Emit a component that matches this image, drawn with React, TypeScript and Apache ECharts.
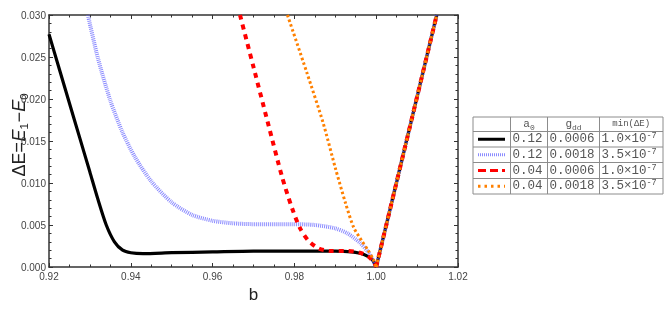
import React, { useEffect, useRef } from "react";
import * as echarts from "echarts";

const bBlack = [0.92, 0.9225, 0.925, 0.9275, 0.93, 0.932, 0.934, 0.936, 0.938, 0.94, 0.943, 0.95, 0.96, 0.97, 0.98, 0.99, 0.994, 0.997, 0.999, 1.0];
const eBlack = [0.0277, 0.0236, 0.0195, 0.0154, 0.0113, 0.008, 0.005, 0.003, 0.002, 0.0017, 0.0016, 0.0017, 0.0018, 0.0019, 0.0019, 0.0019, 0.0018, 0.0015, 0.0009, 0.0];

const bBlue = [0.9295, 0.932, 0.935, 0.938, 0.941, 0.945, 0.95, 0.955, 0.96, 0.965, 0.97, 0.98, 0.985, 0.99, 0.993, 0.996, 0.998, 1.0];
const eBlue = [0.03, 0.0248, 0.0198, 0.016, 0.0131, 0.0102, 0.0077, 0.0062, 0.0055, 0.0052, 0.0051, 0.0051, 0.005, 0.0046, 0.004, 0.0029, 0.0018, 0.0];

const bRed = [0.9667, 0.97, 0.9735, 0.977, 0.9795, 0.9815, 0.9835, 0.986, 0.989, 0.993, 0.996, 0.998, 0.9995, 1.0];
const eRed = [0.03, 0.0238, 0.0172, 0.0107, 0.0069, 0.0045, 0.0031, 0.0022, 0.0019, 0.0019, 0.0017, 0.0013, 0.0005, 0.0];

const bOrange = [0.9783, 0.983, 0.987, 0.99, 0.9925, 0.9945, 0.9965, 0.998, 0.9992, 1.0];
const eOrange = [0.03, 0.0232, 0.0172, 0.0118, 0.0076, 0.0047, 0.0031, 0.002, 0.001, 0.0];

const bRight = [1.0, 1.0148];
const eRight = [0.0, 0.03];

const legA0 = ["0.12", "0.12", "0.04", "0.04"];
const legGdd = ["0.0006", "0.0018", "0.0006", "0.0018"];
const legMinMant = ["1.0", "3.5", "1.0", "3.5"];
const legMinExp = ["-7", "-7", "-7", "-7"];

const styles = [
  { color: "#000000", width: 3.2, dash: undefined as any, opacity: 1 },
  { color: "#6464ff", width: 4, dash: [1, 1], opacity: 0.75 },
  { color: "#ff0000", width: 4, dash: [5, 5], opacity: 1 },
  { color: "#ff8000", width: 3, dash: [2.5, 2.5], opacity: 1 },
];

const zip = (xs: number[], ys: number[]) => xs.map((x, i) => [x, ys[i]]);

export default function App() {
  const ref = useRef<HTMLDivElement>(null);
  useEffect(() => {
    if (!ref.current) return;
    const chart = echarts.init(ref.current, null, { renderer: "svg" });
    const font = "Liberation Sans, Arial, sans-serif";
    const mono = "Liberation Mono, Courier New, monospace";
    const axisCommon = {
      type: "value",
      axisLine: { show: true, onZero: false, lineStyle: { color: "#333", width: 1.5 } },
      axisTick: { show: true, inside: true, length: 4, lineStyle: { color: "#333", width: 1 } },
      minorTick: { show: true, length: 2.5, lineStyle: { color: "#333", width: 1 } },
      splitLine: { show: false },
    };
    const xBase = { ...axisCommon, min: 0.92, max: 1.02, interval: 0.02, minorTick: { ...axisCommon.minorTick, splitNumber: 4 } };
    const yBase = { ...axisCommon, min: 0, max: 0.03, interval: 0.005, minorTick: { ...axisCommon.minorTick, splitNumber: 5 } };

    const datasets = [zip(bBlack, eBlack), zip(bBlue, eBlue), zip(bRed, eRed), zip(bOrange, eOrange)];
    const series: any[] = [];
    datasets.forEach((d, i) => {
      const s = styles[i];
      series.push({
        type: "line", data: d, showSymbol: false, symbol: "none", smooth: 0.25, clip: true,
        z: 2 + i,
        lineStyle: { color: s.color, width: s.width, type: s.dash || "solid", opacity: s.opacity, cap: "butt" },
      });
    });
    styles.forEach((s, i) => {
      series.push({
        type: "line", data: zip(bRight, eRight), showSymbol: false, symbol: "none", clip: true, z: 2 + i,
        lineStyle: { color: s.color, width: s.width, type: s.dash || "solid", opacity: s.opacity, cap: "butt" },
      });
    });

    // Legend table
    const tx = 473, cols = [473, 510.5, 547.5, 599.5, 663];
    const rows = [117, 131.5, 147, 162.5, 178.5, 194];
    const g: any[] = [];
    g.push({ type: "rect", shape: { x: tx, y: rows[0], width: cols[4] - cols[0], height: rows[5] - rows[0] }, style: { fill: "#fff", stroke: "#8c8c8c", lineWidth: 1 } });
    for (let r = 1; r < 5; r++) {
      g.push({ type: "line", shape: { x1: cols[0], y1: rows[r], x2: cols[4], y2: rows[r] }, style: { stroke: "#8c8c8c", lineWidth: 1 } });
    }
    for (let c = 1; c < 4; c++) {
      g.push({ type: "line", shape: { x1: cols[c], y1: rows[0], x2: cols[c], y2: rows[5] }, style: { stroke: "#8c8c8c", lineWidth: 1 } });
    }
    const hy = (rows[0] + rows[1]) / 2;
    const txtColor = "#555";
    const subRich = {
      h: { fontFamily: mono, fontSize: 11, fill: txtColor, lineHeight: 14 },
      s: { fontFamily: mono, fontSize: 8, fill: txtColor, lineHeight: 9, verticalAlign: "bottom" },
    };
    g.push({ type: "text", x: (cols[1] + cols[2]) / 2, y: hy, style: { text: "{h|a}{s|0}", align: "center", verticalAlign: "middle", rich: subRich } });
    g.push({ type: "text", x: (cols[2] + cols[3]) / 2, y: hy, style: { text: "{h|g}{s|dd}", align: "center", verticalAlign: "middle", rich: subRich } });
    g.push({ type: "text", x: (cols[3] + cols[4]) / 2, y: hy, style: { text: "min(ΔE)", align: "center", verticalAlign: "middle", fontFamily: mono, fontSize: 9, fill: txtColor } });
    for (let r = 0; r < 4; r++) {
      const cy = (rows[r + 1] + rows[r + 2]) / 2;
      const s = styles[r];
      g.push({ type: "line", shape: { x1: 478, y1: cy, x2: 505, y2: cy }, style: { stroke: s.color, lineWidth: 3, lineDash: r === 1 ? [1, 1] : r === 2 ? [8, 4] : r === 3 ? [2.5, 4] : null, opacity: s.opacity } });
      g.push({ type: "text", x: cols[1] + 2, y: cy, style: { text: legA0[r], align: "left", verticalAlign: "middle", fontFamily: mono, fontSize: 12.5, fill: txtColor } });
      g.push({ type: "text", x: cols[2] + 2, y: cy, style: { text: legGdd[r], align: "left", verticalAlign: "middle", fontFamily: mono, fontSize: 12.5, fill: txtColor } });
      g.push({ type: "text", x: cols[3] + 2, y: cy, style: { text: `{m|${legMinMant[r]}×10}{p|${legMinExp[r]}}`, align: "left", verticalAlign: "middle", rich: { m: { fontFamily: mono, fontSize: 12.5, fill: txtColor, lineHeight: 15 }, p: { fontFamily: mono, fontSize: 8.5, fill: txtColor, lineHeight: 9, verticalAlign: "top" } } } });
    }
    // y-axis name, built from pieces in a rotated group
    const fs = 18, sfs = 11.5;
    const pieces = [
      { t: "ΔE=", w: fs * 1.95, italic: false, sub: false },
      { t: "E", w: fs * 0.667, italic: true, sub: false },
      { t: "1", w: sfs * 0.6, italic: false, sub: true },
      { t: "−", w: fs * 0.6, italic: false, sub: false },
      { t: "E", w: fs * 0.667, italic: true, sub: false },
      { t: "0", w: sfs * 0.556, italic: false, sub: true },
    ];
    const total = pieces.reduce((a, p) => a + p.w, 0);
    let px = -total / 2;
    const children: any[] = [];
    pieces.forEach((p) => {
      children.push({
        type: "text", x: px, y: p.sub ? 5 : 0,
        style: { text: p.t, align: "left", verticalAlign: "middle", fontFamily: font, fontSize: p.sub ? sfs : fs, fontStyle: p.italic ? "italic" : "normal", fill: "#222" },
      });
      px += p.w;
    });
    g.push({ type: "group", x: 19, y: 135, rotation: Math.PI / 2, children });

    chart.setOption({
      animation: false,
      grid: { left: 49, right: 206, top: 15, bottom: 46, containLabel: false },
      xAxis: [
        { ...xBase, position: "bottom", axisLabel: { formatter: (v: number) => v.toFixed(2), color: "#444", fontSize: 10, fontFamily: font, margin: 4 }, name: "b", nameLocation: "middle", nameGap: 19, nameTextStyle: { fontSize: 17, fontFamily: font, color: "#222" } },
        { ...xBase, position: "top", axisLabel: { show: false } },
      ],
      yAxis: [
        { ...yBase, position: "left", axisLabel: { formatter: (v: number) => v.toFixed(3), color: "#444", fontSize: 10, fontFamily: font, margin: 3 } },
        { ...yBase, position: "right", axisLabel: { show: false } },
      ],
      series,
      graphic: g,
    });
    return () => chart.dispose();
  }, []);
  return <div ref={ref} style={{ position: "fixed", left: 0, top: 0, width: 664, height: 313 }} />;
}
